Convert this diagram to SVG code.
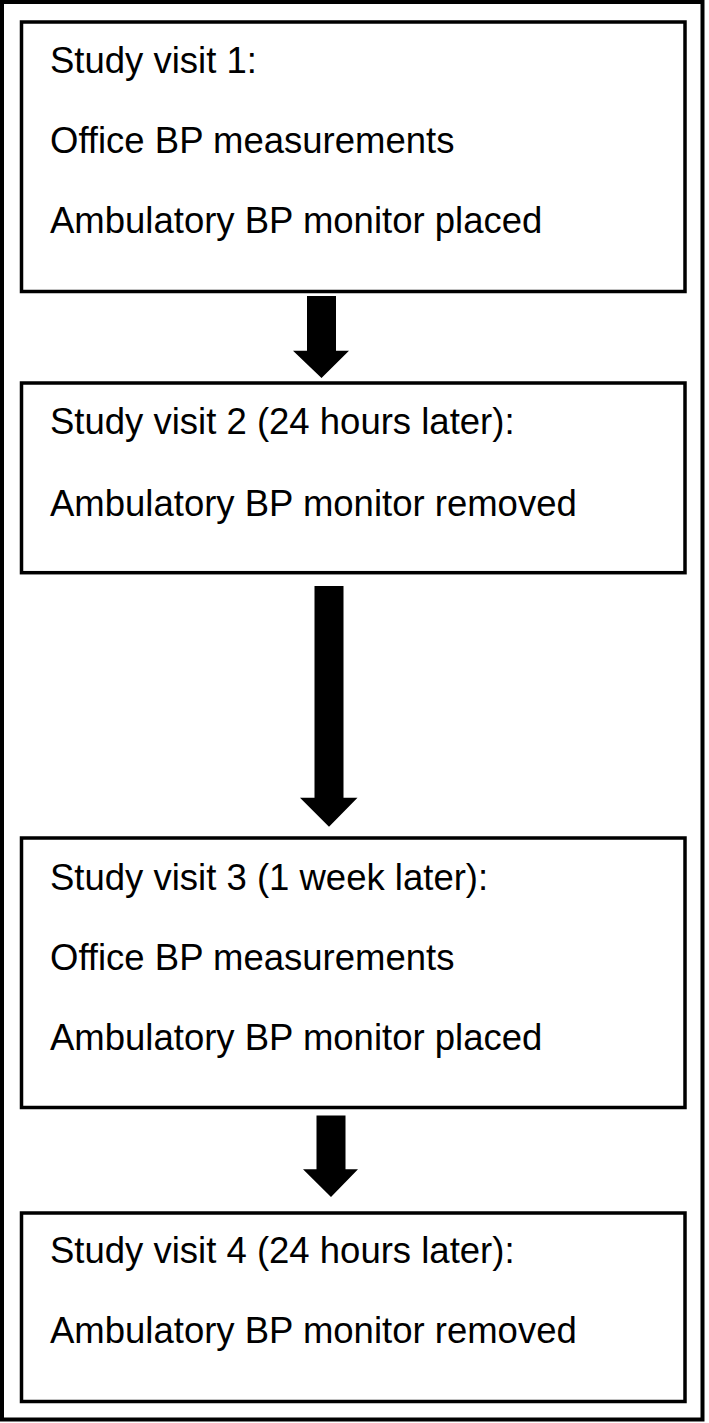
<svg xmlns="http://www.w3.org/2000/svg" width="709" height="1423" viewBox="0 0 709 1423">
<style>
.box{fill:#fff;stroke:#000;stroke-width:3.5}
.t{font-family:"Liberation Sans",Arial,sans-serif;font-size:36.5px;fill:#000}
.arr{fill:#000}
</style>
<rect x="0" y="0" width="709" height="1423" fill="#fff"/>
<rect id="frame" x="2" y="2" width="700.5" height="1417.5" fill="none" stroke="#000" stroke-width="4"/>
<g id="visit1">
<rect class="box" x="21.5" y="22" width="663.5" height="269.5"/>
<text class="t" x="50" y="72.7">Study visit 1:</text>
<text class="t" x="50" y="152.7">Office BP measurements</text>
<text class="t" x="50" y="233">Ambulatory BP monitor placed</text>
</g>
<g id="visit2">
<rect class="box" x="21.5" y="383" width="663.5" height="189.7"/>
<text class="t" x="50" y="434">Study visit 2 (24 hours later):</text>
<text class="t" x="50" y="516">Ambulatory BP monitor removed</text>
</g>
<g id="visit3">
<rect class="box" x="21.5" y="838" width="663.5" height="269.5"/>
<text class="t" x="50" y="890">Study visit 3 (1 week later):</text>
<text class="t" x="50" y="970">Office BP measurements</text>
<text class="t" x="50" y="1050">Ambulatory BP monitor placed</text>
</g>
<g id="visit4">
<rect class="box" x="21.5" y="1213" width="663.5" height="188.5"/>
<text class="t" x="50" y="1263">Study visit 4 (24 hours later):</text>
<text class="t" x="50" y="1343">Ambulatory BP monitor removed</text>
</g>
<g id="connectors">
<polygon class="arr" points="307,296 336,296 336,350.7 349,350.7 321.5,378 293,350.7 307,350.7"/>
<polygon class="arr" points="314.5,586 343.5,586 343.5,797.7 357.5,797.7 329,826.7 300,797.7 314.5,797.7"/>
<polygon class="arr" points="316.5,1115.5 345.5,1115.5 345.5,1169.3 358,1169.3 331,1197 303,1169.3 316.5,1169.3"/>
</g>
</svg>
